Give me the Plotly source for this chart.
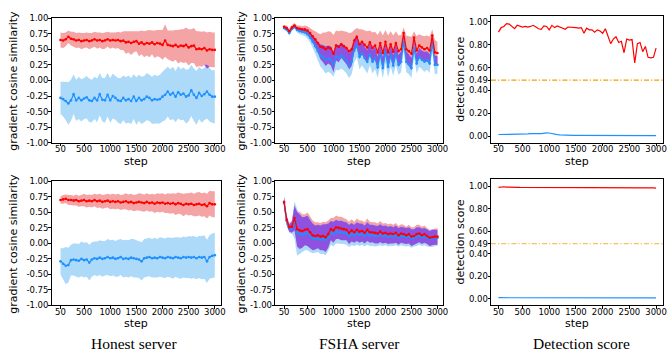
import numpy as np
import plotly.graph_objects as go

# training steps at which the metrics were logged
steps = list(range(50, 3001, 50))

# ---- Honest server, top row: gradient cosine similarity (mean and std) ----
honest1_red_mean = [0.65,0.64,0.66,0.70,0.67,0.66,0.64,0.65,0.63,0.64,
                    0.65,0.63,0.64,0.66,0.64,0.65,0.63,0.64,0.66,0.64,
                    0.65,0.64,0.65,0.63,0.64,0.61,0.62,0.60,0.62,0.63,
                    0.59,0.61,0.58,0.60,0.59,0.61,0.58,0.60,0.59,0.57,
                    0.64,0.57,0.56,0.55,0.57,0.54,0.56,0.55,0.57,0.53,
                    0.55,0.56,0.50,0.51,0.50,0.52,0.48,0.50,0.49,0.49]
honest1_red_std = [0.12,0.12,0.11,0.10,0.11,0.12,0.12,0.12,0.13,0.12,
                   0.12,0.13,0.12,0.12,0.13,0.12,0.13,0.13,0.12,0.13,
                   0.12,0.13,0.13,0.14,0.15,0.18,0.17,0.19,0.17,0.16,
                   0.20,0.19,0.21,0.20,0.22,0.19,0.22,0.21,0.22,0.24,
                   0.26,0.23,0.24,0.25,0.24,0.27,0.26,0.27,0.28,0.29,
                   0.27,0.28,0.29,0.28,0.28,0.27,0.29,0.28,0.28,0.28]
honest1_blue_mean = [-0.28,-0.30,-0.33,-0.37,-0.32,-0.22,-0.32,-0.28,-0.32,-0.29,
                     -0.27,-0.32,-0.33,-0.28,-0.32,-0.22,-0.31,-0.32,-0.23,-0.32,
                     -0.25,-0.28,-0.32,-0.33,-0.28,-0.32,-0.30,-0.33,-0.26,-0.33,
                     -0.28,-0.32,-0.30,-0.26,-0.28,-0.32,-0.30,-0.31,-0.30,-0.26,
                     -0.23,-0.18,-0.23,-0.20,-0.26,-0.19,-0.23,-0.21,-0.26,-0.24,
                     -0.16,-0.23,-0.28,-0.20,-0.25,-0.22,-0.18,-0.23,-0.26,-0.26]
honest1_blue_std = [0.26,0.28,0.31,0.34,0.33,0.32,0.33,0.34,0.34,0.33,
                    0.34,0.35,0.34,0.34,0.35,0.34,0.35,0.36,0.35,0.36,
                    0.36,0.35,0.36,0.37,0.36,0.37,0.38,0.37,0.36,0.38,
                    0.37,0.38,0.37,0.38,0.37,0.38,0.39,0.38,0.39,0.40,
                    0.41,0.40,0.41,0.42,0.41,0.42,0.41,0.42,0.43,0.42,
                    0.41,0.42,0.43,0.42,0.43,0.42,0.43,0.43,0.42,0.43]

# ---- Honest server, bottom row ----
honest2_red_mean = [0.70,0.71,0.72,0.70,0.70,0.69,0.70,0.68,0.69,0.70,
                    0.68,0.69,0.68,0.70,0.68,0.69,0.67,0.68,0.69,0.67,
                    0.68,0.67,0.68,0.66,0.67,0.68,0.66,0.67,0.65,0.66,
                    0.67,0.66,0.65,0.67,0.65,0.66,0.64,0.66,0.65,0.66,
                    0.64,0.65,0.64,0.65,0.63,0.65,0.64,0.62,0.64,0.63,
                    0.64,0.62,0.63,0.64,0.62,0.63,0.60,0.65,0.63,0.63]
honest2_red_std = [0.06,0.07,0.07,0.08,0.08,0.08,0.09,0.09,0.09,0.10,
                   0.10,0.10,0.10,0.10,0.11,0.11,0.11,0.11,0.11,0.12,
                   0.12,0.12,0.12,0.12,0.12,0.13,0.13,0.13,0.13,0.13,
                   0.14,0.14,0.14,0.14,0.14,0.14,0.15,0.15,0.15,0.15,
                   0.15,0.16,0.16,0.16,0.17,0.17,0.17,0.18,0.17,0.18,
                   0.18,0.18,0.19,0.19,0.19,0.19,0.20,0.20,0.21,0.21]
honest2_blue_mean = [-0.29,-0.33,-0.36,-0.35,-0.27,-0.26,-0.27,-0.28,-0.25,-0.27,
                     -0.26,-0.31,-0.26,-0.24,-0.25,-0.23,-0.25,-0.24,-0.22,-0.24,
                     -0.23,-0.25,-0.24,-0.22,-0.25,-0.24,-0.25,-0.23,-0.24,-0.25,
                     -0.26,-0.29,-0.24,-0.23,-0.22,-0.24,-0.23,-0.24,-0.22,-0.23,
                     -0.24,-0.22,-0.23,-0.24,-0.22,-0.23,-0.24,-0.22,-0.23,-0.22,
                     -0.23,-0.22,-0.24,-0.22,-0.23,-0.22,-0.29,-0.22,-0.20,-0.19]
honest2_blue_std = [0.21,0.25,0.30,0.28,0.25,0.26,0.27,0.27,0.28,0.28,
                    0.28,0.29,0.28,0.27,0.28,0.28,0.29,0.28,0.29,0.29,
                    0.29,0.29,0.30,0.29,0.30,0.30,0.30,0.30,0.31,0.30,
                    0.30,0.31,0.31,0.31,0.31,0.31,0.32,0.31,0.32,0.32,
                    0.32,0.32,0.32,0.33,0.32,0.33,0.33,0.33,0.33,0.34,
                    0.34,0.34,0.34,0.34,0.35,0.35,0.35,0.35,0.36,0.36]

# ---- FSHA server, top row ----
fsha1_red_mean = [0.86,0.84,0.79,0.85,0.88,0.84,0.83,0.82,0.82,0.80,
                  0.76,0.71,0.66,0.60,0.54,0.53,0.50,0.53,0.51,0.43,
                  0.56,0.54,0.58,0.55,0.52,0.47,0.50,0.64,0.70,0.58,
                  0.62,0.57,0.53,0.61,0.52,0.56,0.45,0.60,0.44,0.62,
                  0.45,0.58,0.46,0.60,0.47,0.50,0.76,0.50,0.47,0.43,
                  0.69,0.48,0.56,0.53,0.50,0.52,0.48,0.72,0.45,0.44]
fsha1_red_std = [0.03,0.04,0.04,0.04,0.04,0.04,0.05,0.05,0.06,0.07,
                 0.08,0.10,0.13,0.16,0.20,0.24,0.27,0.26,0.27,0.30,
                 0.24,0.25,0.22,0.24,0.26,0.29,0.27,0.17,0.14,0.24,
                 0.20,0.23,0.26,0.19,0.25,0.22,0.28,0.20,0.28,0.19,
                 0.27,0.21,0.26,0.19,0.25,0.23,0.09,0.22,0.24,0.27,
                 0.10,0.23,0.18,0.19,0.21,0.20,0.22,0.10,0.20,0.18]
fsha1_blue_mean = [0.84,0.82,0.76,0.83,0.86,0.81,0.79,0.78,0.77,0.74,
                   0.69,0.62,0.55,0.47,0.40,0.37,0.33,0.35,0.33,0.26,
                   0.38,0.36,0.40,0.36,0.32,0.24,0.30,0.48,0.55,0.38,
                   0.43,0.36,0.30,0.42,0.30,0.36,0.21,0.42,0.20,0.45,
                   0.22,0.40,0.24,0.42,0.25,0.30,0.62,0.30,0.26,0.20,
                   0.52,0.27,0.37,0.33,0.30,0.32,0.27,0.60,0.25,0.25]
fsha1_blue_std = [0.03,0.04,0.04,0.04,0.03,0.04,0.05,0.05,0.06,0.07,
                  0.08,0.10,0.12,0.15,0.18,0.20,0.22,0.21,0.22,0.20,
                  0.21,0.20,0.21,0.20,0.21,0.20,0.20,0.19,0.18,0.20,
                  0.19,0.18,0.19,0.18,0.19,0.18,0.17,0.18,0.17,0.18,
                  0.17,0.18,0.17,0.17,0.16,0.17,0.15,0.17,0.16,0.16,
                  0.15,0.16,0.15,0.15,0.16,0.15,0.15,0.14,0.15,0.14]

# ---- FSHA server, bottom row ----
fsha2_red_mean = [0.67,0.38,0.26,0.27,0.41,0.23,0.21,0.20,0.22,0.23,
                  0.18,0.13,0.12,0.13,0.11,0.12,0.10,0.15,0.23,0.21,
                  0.26,0.25,0.24,0.23,0.22,0.17,0.21,0.18,0.22,0.19,
                  0.20,0.17,0.22,0.18,0.18,0.17,0.16,0.19,0.16,0.17,
                  0.15,0.16,0.15,0.17,0.13,0.16,0.15,0.13,0.15,0.11,
                  0.12,0.15,0.16,0.13,0.15,0.12,0.09,0.10,0.11,0.11]
fsha2_red_std = [0.10,0.08,0.07,0.10,0.20,0.28,0.30,0.27,0.25,0.27,
                 0.26,0.24,0.22,0.21,0.22,0.23,0.24,0.22,0.18,0.20,
                 0.19,0.18,0.19,0.18,0.17,0.18,0.18,0.17,0.18,0.18,
                 0.17,0.17,0.18,0.17,0.16,0.17,0.16,0.17,0.16,0.16,
                 0.16,0.16,0.15,0.16,0.15,0.15,0.15,0.14,0.15,0.15,
                 0.14,0.15,0.14,0.14,0.14,0.13,0.13,0.13,0.13,0.13]
fsha2_blue_mean = [0.65,0.36,0.24,0.25,0.38,0.18,0.15,0.14,0.16,0.17,
                   0.12,0.08,0.07,0.08,0.06,0.07,0.06,0.10,0.17,0.15,
                   0.19,0.18,0.18,0.17,0.16,0.12,0.15,0.13,0.16,0.14,
                   0.15,0.12,0.16,0.13,0.13,0.12,0.12,0.14,0.12,0.13,
                   0.11,0.12,0.11,0.13,0.10,0.12,0.11,0.10,0.11,0.08,
                   0.09,0.11,0.12,0.10,0.11,0.09,0.07,0.08,0.09,0.09]
fsha2_blue_std = [0.10,0.08,0.07,0.10,0.30,0.38,0.32,0.28,0.27,0.28,
                  0.26,0.24,0.22,0.22,0.23,0.24,0.25,0.22,0.19,0.20,
                  0.19,0.18,0.19,0.18,0.18,0.18,0.18,0.17,0.18,0.18,
                  0.17,0.17,0.18,0.17,0.17,0.17,0.16,0.17,0.16,0.16,
                  0.16,0.16,0.15,0.16,0.15,0.15,0.15,0.15,0.15,0.15,
                  0.14,0.15,0.14,0.14,0.14,0.14,0.13,0.14,0.13,0.13]

# ---- Detection score ----
det1_red = [0.91,0.95,0.96,0.985,0.98,0.96,0.94,0.97,0.96,0.955,
            0.96,0.955,0.96,0.97,0.955,0.94,0.935,0.965,0.96,0.93,
            0.97,0.95,0.965,0.955,0.95,0.935,0.955,0.955,0.95,0.95,
            0.945,0.95,0.90,0.945,0.93,0.93,0.91,0.93,0.92,0.90,
            0.94,0.87,0.81,0.85,0.87,0.82,0.83,0.73,0.85,0.84,
            0.845,0.64,0.81,0.82,0.74,0.785,0.69,0.685,0.69,0.77]
det1_blue = [0.015,0.015,0.017,0.020,0.015,0.014,0.015,0.016,0.018,0.018,
             0.020,0.020,0.022,0.024,0.025,0.022,0.023,0.028,0.030,0.028,
             0.022,0.018,0.014,0.012,0.010,0.010,0.009,0.009,0.008,0.008,
             0.008,0.008,0.007,0.007,0.007,0.007,0.007,0.007,0.007,0.007,
             0.007,0.007,0.007,0.006,0.006,0.006,0.006,0.006,0.006,0.006,
             0.006,0.006,0.006,0.006,0.006,0.006,0.006,0.006,0.006,0.006]
det2_red = [0.990,0.995,0.996,0.993,0.991,0.990,0.990,0.991,0.990,0.990,
            0.992,0.990,0.989,0.990,0.990,0.989,0.990,0.990,0.989,0.990,
            0.990,0.989,0.990,0.989,0.990,0.990,0.991,0.990,0.989,0.990,
            0.990,0.989,0.990,0.989,0.989,0.990,0.989,0.989,0.988,0.989,
            0.988,0.989,0.988,0.988,0.989,0.988,0.988,0.988,0.989,0.988,
            0.988,0.987,0.988,0.988,0.987,0.988,0.987,0.986,0.985,0.984]
det2_blue = [0.010,0.010,0.009,0.009,0.008,0.007,0.007,0.008,0.008,0.008,
             0.008,0.008,0.008,0.008,0.008,0.008,0.008,0.008,0.008,0.008,
             0.008,0.008,0.008,0.008,0.008,0.008,0.008,0.008,0.008,0.008,
             0.008,0.008,0.008,0.008,0.008,0.008,0.008,0.008,0.008,0.008,
             0.008,0.008,0.008,0.008,0.008,0.008,0.008,0.008,0.008,0.008,
             0.008,0.008,0.008,0.008,0.008,0.008,0.008,0.008,0.008,0.008]
threshold = 0.49

xticks = [50, 500, 1000, 1500, 2000, 2500, 3000]
cos_ticks = [-1.0, -0.75, -0.5, -0.25, 0.0, 0.25, 0.5, 0.75, 1.0]
det_ticks = [0.0, 0.2, 0.4, 0.49, 0.6, 0.8, 1.0]
column_titles = ["Honest server", "FSHA server", "Detection score"]

RED = "#FF0000"
BLUE = "#1E90FF"
RED_FILL = "rgb(244,164,164)"
BLUE_FILL = "rgb(174,218,250)"
MIX_FILL = "rgb(143,82,224)"

W, H = 672, 358
SANS = "DejaVu Sans"

fig = go.Figure()


def band(idx, lo, hi, color):
    fig.add_trace(go.Scatter(
        x=steps + steps[::-1], y=list(hi) + list(lo)[::-1],
        fill="toself", fillcolor=color, mode="none",
        xaxis=f"x{idx}", yaxis=f"y{idx}", hoverinfo="skip"))


def cosine_panel(idx, rm, rs, bm, bs):
    rm, rs, bm, bs = map(np.asarray, (rm, rs, bm, bs))
    r_lo, r_hi = rm - rs, rm + rs
    b_lo, b_hi = bm - bs, bm + bs
    band(idx, r_lo, r_hi, RED_FILL)
    band(idx, b_lo, b_hi, BLUE_FILL)
    # region where the two spreads overlap
    o_lo = np.maximum(r_lo, b_lo)
    o_hi = np.maximum(np.minimum(r_hi, b_hi), o_lo)
    band(idx, o_lo, o_hi, MIX_FILL)
    for mean, col in ((bm, BLUE), (rm, RED)):
        fig.add_trace(go.Scatter(
            x=steps, y=mean, mode="lines+markers",
            line=dict(color=col, width=1.2),
            marker=dict(color=col, size=2.6),
            xaxis=f"x{idx}", yaxis=f"y{idx}", hoverinfo="skip"))


def detection_panel(idx, red, blue, line_color):
    fig.add_shape(type="line", xref=f"x{idx} domain", yref=f"y{idx}",
                  x0=0, x1=1, y0=threshold, y1=threshold,
                  line=dict(color=line_color, width=1.2, dash="5px,2px,1.2px,2px"))
    for vals, col in ((blue, BLUE), (red, RED)):
        fig.add_trace(go.Scatter(
            x=steps, y=vals, mode="lines", line=dict(color=col, width=1.2),
            xaxis=f"x{idx}", yaxis=f"y{idx}", hoverinfo="skip"))


cosine_panel(1, honest1_red_mean, honest1_red_std, honest1_blue_mean, honest1_blue_std)
cosine_panel(2, fsha1_red_mean, fsha1_red_std, fsha1_blue_mean, fsha1_blue_std)
detection_panel(3, det1_red, det1_blue, "#F5A000")
cosine_panel(4, honest2_red_mean, honest2_red_std, honest2_blue_mean, honest2_blue_std)
cosine_panel(5, fsha2_red_mean, fsha2_red_std, fsha2_blue_mean, fsha2_blue_std)
detection_panel(6, det2_red, det2_blue, "rgba(250,170,40,0.75)")

# pixel frames of each panel: (left, right, top, bottom)
frames = {
    1: (52, 223, 13.5, 141.7), 2: (277.3, 446.5, 13.5, 141.7), 3: (494.7, 668, 11, 141.7),
    4: (52, 223, 181.5, 309), 5: (277.3, 446.5, 181.5, 309), 6: (494.7, 668, 178.5, 309),
}
xranges = {1: [-120, 3125], 2: [-120, 3110], 3: [-90, 3130]}
tickfont = dict(family=SANS, size=8.5, color="black")

annotations = []
for idx, (l, r, t, b) in frames.items():
    col = (idx - 1) % 3 + 1
    ax = dict(domain=[l / W, r / W], range=xranges[col], tickvals=xticks,
              ticks="outside", ticklen=2.5, tickwidth=0.8, tickcolor="black",
              ticklabelstandoff=-4,
              showline=True, linecolor="black", linewidth=1, mirror=True,
              showgrid=False, zeroline=False, tickfont=tickfont,
              anchor=f"y{idx}")
    if col < 3:
        yr, yt = [-1, 1], cos_ticks
        ytitle = "gradient cosine similarity"
    else:
        yr = [-0.057, 1.054] if idx == 3 else [-0.058, 1.069]
        yt = det_ticks
        ytitle = "detection score"
    ay = dict(domain=[1 - b / H, 1 - t / H], range=yr, tickvals=yt,
              ticktext=[f"{v:.2f}" for v in yt],
              ticks="outside", ticklen=2.5, tickwidth=0.8, tickcolor="black",
              ticklabelstandoff=-2,
              showline=True, linecolor="black", linewidth=1, mirror=True,
              showgrid=False, zeroline=False, tickfont=tickfont,
              anchor=f"x{idx}")
    fig.update_layout({f"xaxis{idx}": ax, f"yaxis{idx}": ay})

    # axis titles
    title_x = {1: 13.5, 2: 243, 3: 464}[col]
    annotations.append(dict(text=ytitle, x=title_x / W, y=1 - (t + b) / 2 / H,
                            xref="paper", yref="paper", textangle=-90,
                            showarrow=False, xanchor="center", yanchor="middle",
                            font=dict(family=SANS, size=11, color="black")))
    step_y = 160.5 if idx <= 3 else 328
    annotations.append(dict(text="step", x=(l + r) / 2 / W, y=1 - step_y / H,
                            xref="paper", yref="paper", showarrow=False,
                            xanchor="center", yanchor="middle",
                            font=dict(family=SANS, size=11, color="black")))

for name, cx in zip(column_titles, [135, 362, 586]):
    annotations.append(dict(text=name, x=cx / W, y=1 - 348 / H,
                            xref="paper", yref="paper", showarrow=False,
                            xanchor="center", yanchor="middle",
                            font=dict(family="Liberation Serif", size=15.5, color="black")))

fig.update_layout(width=W, height=H, margin=dict(l=0, r=0, t=0, b=0),
                  paper_bgcolor="white", plot_bgcolor="white",
                  showlegend=False, hovermode=False, annotations=annotations)

fig.write_html("out.html", config={"displayModeBar": False})
